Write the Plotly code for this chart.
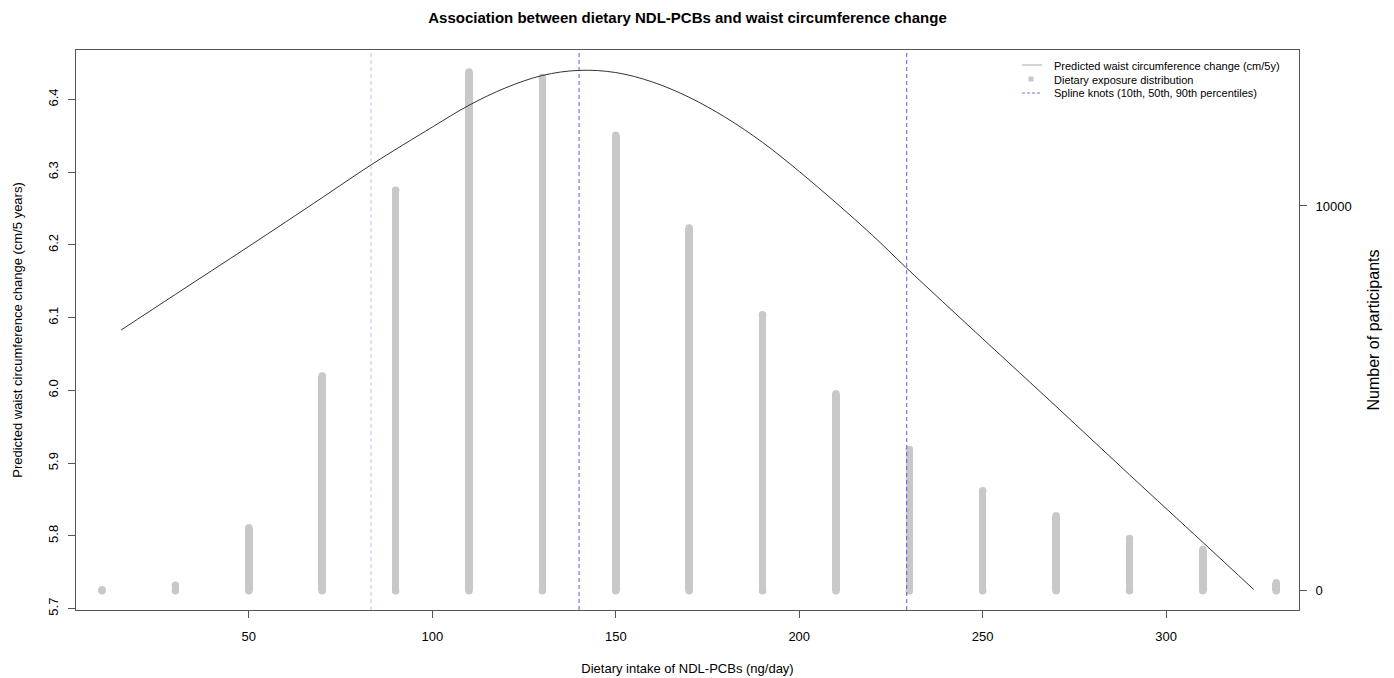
import plotly.graph_objects as go

# ---- data ----
bin_centers = [10, 30, 50, 70, 90, 110, 130, 150, 170, 190, 210, 230, 250, 270, 290, 310, 330]
participants = [25, 140, 1640, 5580, 10410, 13480, 13340, 11840, 9430, 7170, 5120, 3670, 2600, 1950, 1360, 1070, 210]

curve_x = [15.2, 30, 50, 70, 83.3, 100, 110, 120, 130, 140, 150, 160, 170, 180, 190, 200, 210, 220, 229.3,
           250, 270, 290, 310, 323.9]
curve_y = [6.083, 6.132, 6.198, 6.265, 6.310, 6.362, 6.392, 6.416, 6.433, 6.440, 6.437, 6.424, 6.403,
           6.375, 6.341, 6.301, 6.258, 6.213, 6.168, 6.071, 5.978, 5.884, 5.791, 5.726]

knots = [83.3, 140.0, 229.3]
x_ticks = [50, 100, 150, 200, 250, 300]
y_ticks = [5.7, 5.8, 5.9, 6.0, 6.1, 6.2, 6.3, 6.4]
count_ticks = [0, 10000]
count_tick_labels = ["0", "10000"]

legend_labels = ["Predicted waist circumference change (cm/5y)",
                 "Dietary exposure distribution",
                 "Spline knots (10th, 50th, 90th percentiles)"]

# ---- styling ----
FONT = "Liberation Sans, Arial, sans-serif"
BAR_GREY = "#C8C8C8"
AXIS_COL = "#555555"
X_RANGE = [2.9, 336.2]
Y_RANGE = [5.698, 6.468]
C_RANGE = [-501, 14054]

W, H = 1394, 678
ML, MR, MT, MB = 76, 95, 50, 68
PW, PH = W - ML - MR, H - MT - MB


def px_x(p):
    return (p - ML) / PW


def px_y(p):
    return (H - MB - p) / PH


fig = go.Figure()

# histogram-like vertical lines (bars with round caps)
fig.add_trace(go.Bar(
    x=bin_centers, y=participants, width=2.05, yaxis="y",
    marker=dict(color=BAR_GREY, line=dict(width=0)),
    name=legend_labels[1], showlegend=False,
))
fig.add_trace(go.Scatter(
    x=bin_centers + bin_centers, y=[0] * len(bin_centers) + participants,
    mode="markers", yaxis="y",
    marker=dict(color=BAR_GREY, size=7.5, line=dict(width=0)),
    showlegend=False, hoverinfo="skip",
))

# knot lines (drawn in the curve's axis)
kx, ky = [], []
for k in knots[1:]:
    kx += [k, k, None]
    ky += [Y_RANGE[0], Y_RANGE[1], None]
fig.add_trace(go.Scatter(
    x=[knots[0], knots[0]], y=Y_RANGE, mode="lines", yaxis="y2",
    line=dict(color="#BFBFFA", width=1, dash="4px,3px"),
    showlegend=False, hoverinfo="skip",
))
fig.add_trace(go.Scatter(
    x=kx, y=ky, mode="lines", yaxis="y2",
    line=dict(color="#5A5AF0", width=1, dash="4px,3px"),
    name=legend_labels[2], showlegend=False,
))

# predicted curve
fig.add_trace(go.Scatter(
    x=curve_x, y=curve_y, mode="lines", yaxis="y2",
    line=dict(color="#333333", width=1, shape="spline", smoothing=1.0),
    name=legend_labels[0], showlegend=False,
))

# ---- legend (drawn by hand, no box) ----
rows_y = [66, 79.5, 93]
annotations = []
for lab, ry in zip(legend_labels, rows_y):
    annotations.append(dict(text=lab, x=px_x(1052), y=px_y(ry), xref="paper", yref="paper",
                            xanchor="left", yanchor="middle", showarrow=False,
                            font=dict(size=11, family=FONT, color="#000000")))
shapes = [
    dict(type="line", xref="paper", yref="paper", x0=px_x(1022), x1=px_x(1042),
         y0=px_y(65), y1=px_y(65), line=dict(color="#AAAAAA", width=1)),
    dict(type="rect", xref="paper", yref="paper", x0=px_x(1028.5), x1=px_x(1033.5),
         y0=px_y(81.5), y1=px_y(76.5), line=dict(width=0), fillcolor=BAR_GREY),
    dict(type="line", xref="paper", yref="paper", x0=px_x(1022), x1=px_x(1042),
         y0=px_y(93), y1=px_y(93), line=dict(color="#7070F0", width=1, dash="3px,2px")),
]

fig.update_layout(
    width=W, height=H,
    margin=dict(l=ML, r=MR, t=MT, b=MB, autoexpand=False),
    paper_bgcolor="white", plot_bgcolor="white",
    font=dict(family=FONT, size=13, color="#000000"),
    title=dict(text="<b>Association between dietary NDL-PCBs and waist circumference change</b>",
               x=0.5, xref="paper", xanchor="center", y=1 - 18 / H, yanchor="middle",
               font=dict(size=15, family=FONT, color="#000000")),
    showlegend=False,
    annotations=annotations,
    shapes=shapes,
    bargap=0,
    xaxis=dict(range=X_RANGE, tickvals=x_ticks, ticks="outside", ticklen=7, tickcolor=AXIS_COL,
               showline=True, linecolor=AXIS_COL, linewidth=1, mirror=True,
               showgrid=False, zeroline=False, ticklabelstandoff=7,
               title=dict(text="Dietary intake of NDL-PCBs (ng/day)", font=dict(size=13), standoff=21),
               tickfont=dict(size=13)),
    yaxis=dict(range=C_RANGE, side="right", tickvals=count_ticks, ticktext=count_tick_labels,
               ticks="outside", ticklen=7, ticklabelstandoff=6,
               tickcolor=AXIS_COL, showline=True, linecolor=AXIS_COL, linewidth=1,
               showgrid=False, zeroline=False, tickfont=dict(size=13),
               title=dict(text="Number of participants", font=dict(size=16), standoff=17)),
    yaxis2=dict(range=Y_RANGE, overlaying="y", side="left", tickvals=y_ticks, tickformat=".1f",
                tickangle=-90, ticks="outside", ticklen=7, tickcolor=AXIS_COL,
                showline=True, linecolor=AXIS_COL, linewidth=1, showgrid=False, zeroline=False,
                tickfont=dict(size=13), ticklabelstandoff=5,
                title=dict(text="Predicted waist circumference change (cm/5 years)",
                           font=dict(size=13), standoff=20)),
)

fig.write_html("out.html", config={"displayModeBar": False},
               post_script="document.body.style.margin='0';")
